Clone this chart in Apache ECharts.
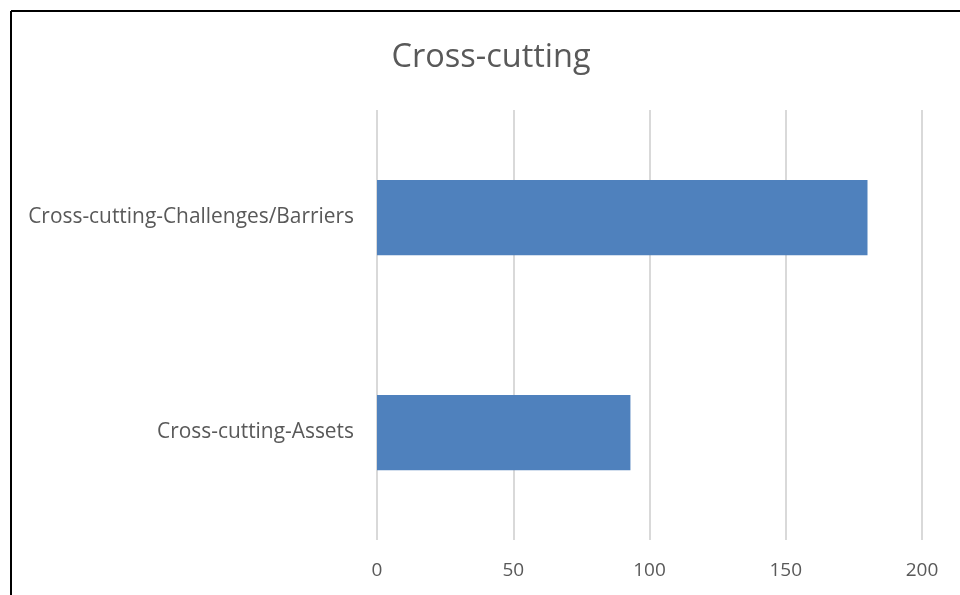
<!DOCTYPE html>
<html>
<head>
<meta charset="utf-8">
<script src="https://cdn.jsdelivr.net/npm/echarts@6/dist/echarts.min.js"></script>
<style>
  html, body { margin: 0; padding: 0; background: #fff; }
  #chart { width: 960px; height: 595px; }
</style>
</head>
<body>
<div id="chart"></div>
<script>
// Category names (bottom to top on the y axis) and their counts
const categories = ['Cross-cutting-Assets', 'Cross-cutting-Challenges/Barriers'];
const counts = [93, 180];
const axisMin = 0;
const axisMax = 200;
const axisStep = 50;

const textColor = '#595959';
const font = '"Open Sans", "Liberation Sans", sans-serif';

const chart = echarts.init(document.getElementById('chart'), null, { renderer: 'canvas' });
chart.setOption({
  animation: false,
  backgroundColor: '#fff',
  title: {
    text: 'Cross-cutting',
    left: 486,
    top: 36,
    textAlign: 'center',
    textStyle: { color: textColor, fontFamily: font, fontSize: 32.5, fontWeight: 'normal' }
  },
  grid: { left: 377, right: 38, top: 110, bottom: 55, containLabel: false },
  xAxis: {
    type: 'value',
    min: axisMin,
    max: axisMax,
    interval: axisStep,
    axisLine: { show: false },
    axisTick: { show: false },
    axisLabel: { color: textColor, fontFamily: font, fontSize: 19, margin: 21 },
    splitLine: { show: true, lineStyle: { color: '#d9d9d9', width: 2 } }
  },
  yAxis: {
    type: 'category',
    data: categories,
    axisLine: { show: false },
    axisTick: { show: false },
    axisLabel: { color: textColor, fontFamily: font, fontSize: 20.9, margin: 23 }
  },
  series: [{
    type: 'bar',
    data: counts,
    barCategoryGap: '65%',
    itemStyle: { color: '#4f81bd' }
  }],
  graphic: [
    { type: 'line', shape: { x1: 11, y1: 11, x2: 960, y2: 11 }, style: { stroke: '#000', lineWidth: 2 } },
    { type: 'line', shape: { x1: 11, y1: 11, x2: 11, y2: 595 }, style: { stroke: '#000', lineWidth: 2 } }
  ]
});
</script>
</body>
</html>
